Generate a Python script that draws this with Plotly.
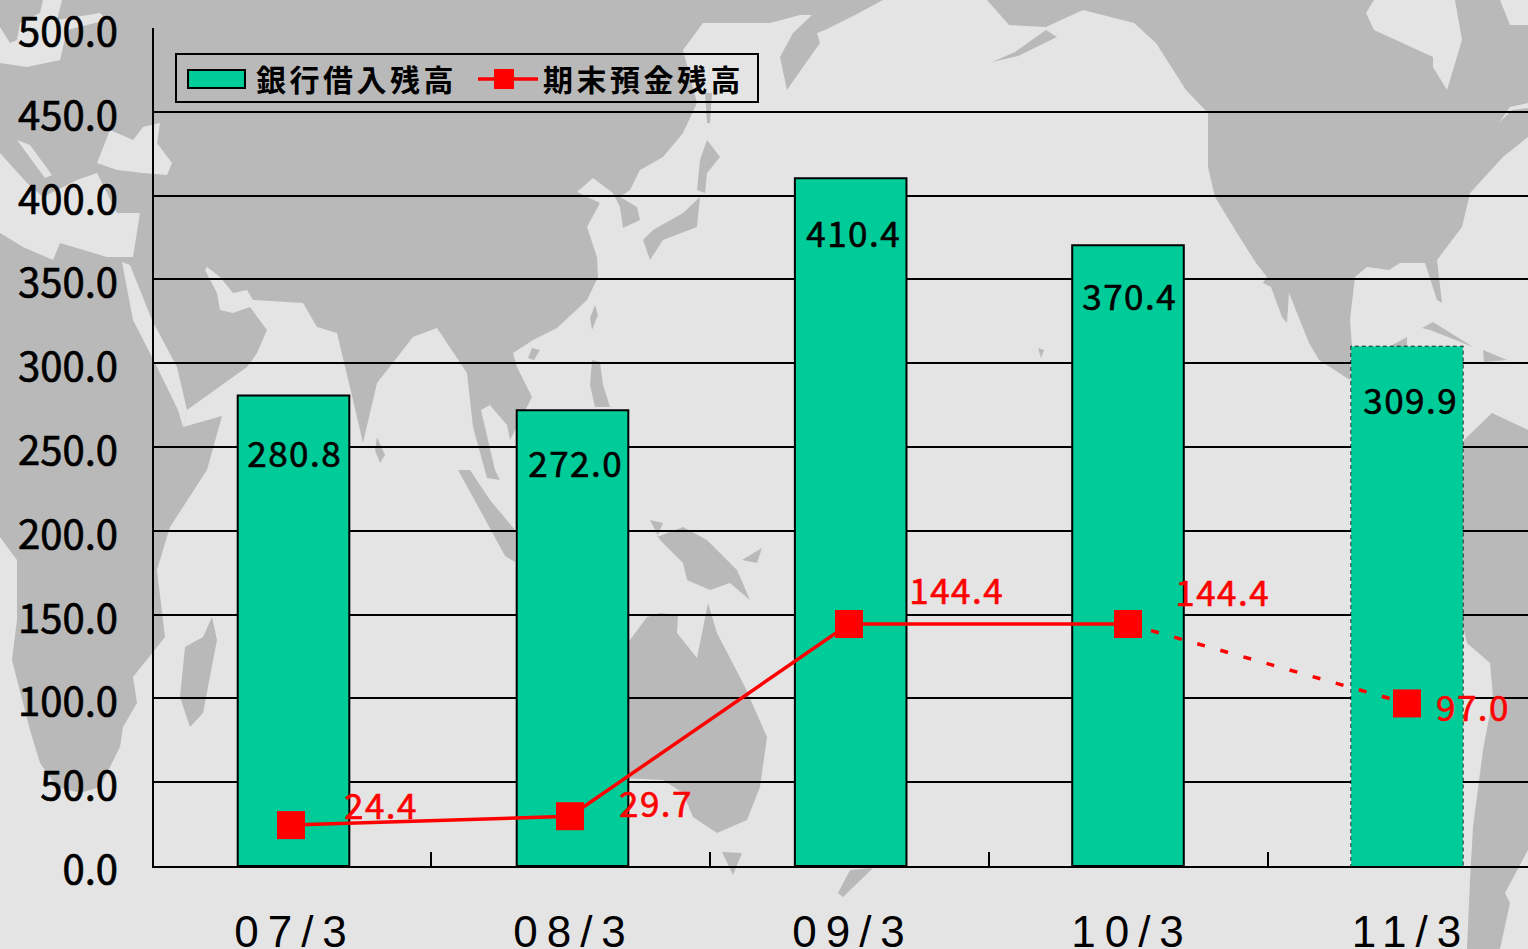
import plotly.graph_objects as go

# 描画サイズ
W, H = 1528, 949
M_L, M_T, M_B = 154, 28, 83

categories = ["07/3", "08/3", "09/3", "10/3", "11/3"]
loans = [280.8, 272.0, 410.4, 370.4, 309.9]
deposits = [24.4, 29.7, 144.4, 144.4, 97.0]
y_ticks = [0, 50, 100, 150, 200, 250, 300, 350, 400, 450, 500]

LAND = "#b9b9b9"
SEA = "#e4e4e4"
BAR = "#00cc99"
RED = "#ff0000"

# 背景の世界地図（ピクセル座標の略図）
land_polys = [
    # ユーラシア + アフリカ
    [(0, 0), (883, 0), (855, 15), (825, 30), (817, 33), (820, 43), (803, 67), (787, 90), (780, 57), (793, 33),
     (812, 15), (800, 15), (770, 23), (703, 23), (683, 50), (697, 103), (683, 133),
     (663, 157), (640, 170), (630, 190), (620, 197), (637, 207), (640, 220), (623, 228), (620, 207), (613, 193),
     (593, 178), (577, 192), (600, 203), (587, 227), (597, 257), (598, 277), (587, 300), (557, 328), (533, 340),
     (513, 353), (517, 367), (532, 397), (510, 440), (507, 425), (490, 405), (481, 410), (495, 470), (500, 480),
     (487, 478), (473, 427), (467, 373), (437, 328), (413, 337), (377, 383), (363, 443), (353, 400), (337, 333),
     (317, 327), (303, 303), (253, 300), (247, 290), (233, 293), (220, 277), (207, 267), (205, 270), (217, 293),
     (220, 310), (233, 313), (250, 307), (267, 330), (257, 353), (247, 367), (187, 410), (183, 427), (222, 416),
     (207, 470), (170, 527), (157, 570), (165, 637), (133, 677), (137, 703), (123, 727), (120, 747), (100, 787),
     (80, 793), (57, 787), (40, 763), (30, 730), (12, 660), (17, 620), (17, 560), (0, 537)],
    # 日本・樺太
    [(643, 240), (650, 260), (663, 240), (697, 227), (700, 197), (683, 213), (653, 230)],
    [(697, 190), (700, 160), (707, 140), (720, 157), (707, 173), (705, 193)],
    [(705, 93), (712, 93), (710, 123), (707, 123)],
    # 台湾・海南・フィリピン・スリランカ
    [(595, 305), (598, 315), (592, 330), (590, 318)],
    [(532, 348), (540, 350), (534, 360), (528, 358)],
    [(592, 360), (600, 362), (603, 385), (610, 407), (595, 407), (590, 385)],
    [(377, 437), (385, 455), (380, 463), (375, 450)],
    # マダガスカル
    [(212, 617), (217, 640), (203, 713), (190, 727), (180, 697), (185, 647), (203, 637)],
    # スマトラ
    [(458, 470), (470, 470), (490, 500), (515, 530), (515, 562), (505, 556), (480, 510)],
    # ニューギニア
    [(650, 520), (663, 523), (657, 537), (683, 527), (707, 540), (737, 570), (750, 600), (730, 583), (710, 590),
     (687, 580), (683, 563), (660, 540)],
    [(742, 560), (762, 548), (757, 563)],
    # オーストラリア
    [(600, 680), (630, 640), (647, 617), (660, 613), (678, 615), (677, 633), (697, 658), (708, 603), (717, 633),
     (745, 687), (767, 737), (760, 787), (747, 820), (717, 833), (693, 817), (683, 793), (663, 780), (600, 777)],
    [(722, 852), (742, 853), (733, 875)],
    [(873, 868), (843, 897), (838, 893), (850, 870)],
    # 北米
    [(987, 0), (1009, 25), (1046, 27), (1061, 20), (1083, 10), (1134, 23), (1156, 43), (1186, 90), (1208, 113),
     (1208, 167), (1215, 197), (1237, 233), (1256, 263), (1267, 277), (1263, 283), (1271, 287), (1282, 317),
     (1287, 323), (1289, 293), (1309, 343), (1319, 360), (1350, 380), (1352, 347), (1350, 320), (1355, 277),
     (1367, 267), (1389, 270), (1400, 263), (1425, 263), (1437, 300), (1442, 303), (1437, 260), (1462, 227),
     (1470, 193), (1503, 157), (1528, 137), (1528, 0)],
    [(992, 62), (1015, 52), (1046, 30), (1057, 37), (1018, 56)],
    # キューバ・イスパニョーラ・ユカタン
    [(1422, 328), (1433, 322), (1473, 347), (1448, 337), (1430, 330)],
    [(1483, 350), (1507, 360), (1484, 362)],
    [(1389, 347), (1407, 337), (1407, 347)],
    [(1038, 348), (1044, 350), (1041, 358)],
    # 南米
    [(1464, 440), (1492, 413), (1528, 430), (1528, 850), (1505, 893), (1510, 903), (1500, 949), (1467, 949),
     (1470, 880), (1473, 827), (1483, 750), (1493, 697), (1490, 663), (1467, 643), (1460, 615)],
]
sea_polys = [
    [(0, 153), (27, 183), (43, 197), (77, 180), (97, 173), (117, 213), (140, 213), (133, 257), (107, 257),
     (60, 243), (53, 260), (23, 247), (0, 233)],
    [(97, 163), (110, 130), (133, 140), (143, 127), (160, 123), (157, 143), (172, 163), (167, 175), (143, 173),
     (117, 170)],
    [(0, 27), (10, 43), (17, 40), (20, 23), (40, 13), (43, 0), (62, 0), (57, 20), (100, 13), (107, 20), (67, 30),
     (60, 60), (27, 67), (0, 63)],
    [(17, 140), (30, 145), (52, 175), (45, 178)],
    [(122, 262), (133, 320), (157, 367), (178, 410), (183, 427), (187, 410), (177, 367), (152, 320), (130, 265)],
    [(1366, 13), (1374, 0), (1455, 0), (1462, 40), (1447, 90), (1433, 67), (1433, 57), (1374, 30)],
    [(1499, 123), (1510, 107), (1528, 103), (1528, 108), (1512, 110)],
    [(1500, 0), (1510, 25), (1528, 25), (1528, 0)],
]


def to_paper(pts):
    # ピクセル座標を paper 座標へ
    span_x, span_y = W - M_L, H - M_T - M_B
    coords = [f"{(x - M_L) / span_x:.5f},{1 - (y - M_T) / span_y:.5f}" for x, y in pts]
    return "M" + "L".join(coords) + "Z"


shapes = [dict(type="path", xref="paper", yref="paper", path=to_paper(p), fillcolor=LAND,
               line=dict(width=0), layer="below") for p in land_polys]
shapes += [dict(type="path", xref="paper", yref="paper", path=to_paper(p), fillcolor=SEA,
                line=dict(width=0), layer="below") for p in sea_polys]
# 11/3 は予想なので破線枠
shapes.append(dict(type="rect", xref="x", yref="y", x0=3.8, x1=4.2, y0=0, y1=loans[4], layer="between",
                   line=dict(color="black", width=1.5, dash="4px,3px")))

xs = list(range(len(categories)))

fig = go.Figure()
# 棒は元の図でも目盛の中心から少しずれている
bar_offsets = [-0.191, -0.191, -0.194, -0.2, -0.2]
fig.add_trace(go.Bar(
    x=xs, y=loans, name="銀行借入残高", width=0.4, offset=bar_offsets, marker_color=BAR,
    marker_line_color="black", marker_line_width=[2, 2, 2, 2, 0],
))
fig.add_trace(go.Scatter(
    x=xs[:4], y=deposits[:4], name="期末預金残高", mode="lines+markers",
    line=dict(color=RED, width=3.5), marker=dict(symbol="square", size=28, color=RED),
))
fig.add_trace(go.Scatter(
    x=xs[3:], y=deposits[3:], mode="lines+markers", showlegend=False,
    line=dict(color=RED, width=3.5, dash="8px,16px"), marker=dict(symbol="square", size=28, color=RED),
))

LABEL_FONT = "Noto Sans CJK JP"
annotations = []
black_offsets = [(3.5, -56), (5, -51), (4, -53), (1, -49), (3, -52)]
for i, (v, (dx, dy)) in enumerate(zip(loans, black_offsets)):
    annotations.append(dict(x=i, y=v, xref="x", yref="y", text=f"{v:.1f}", showarrow=False, xshift=dx, yshift=dy,
                            font=dict(family=LABEL_FONT, size=35, color="black")))
red_offsets = [(90, 22), (86, 15), (107, 35), (94, 33), (66, -2)]
for i, (v, (dx, dy)) in enumerate(zip(deposits, red_offsets)):
    annotations.append(dict(x=i, y=v, xref="x", yref="y", text=f"{v:.1f}", showarrow=False, xshift=dx, yshift=dy,
                            font=dict(family=LABEL_FONT, size=35, color=RED)))

fig.update_layout(
    width=W, height=H,
    margin=dict(l=M_L, r=0, t=M_T, b=M_B, autoexpand=False),
    paper_bgcolor=SEA, plot_bgcolor="rgba(0,0,0,0)",
    shapes=shapes, annotations=annotations,
    showlegend=True,
    legend=dict(
        orientation="h", x=(175 - M_L) / (W - M_L), y=1 - (53 - M_T) / (H - M_T - M_B),
        xanchor="left", yanchor="top", bgcolor="rgba(0,0,0,0)", bordercolor="black", borderwidth=2,
        font=dict(family="Noto Sans CJK JP", size=30, color="black", weight="bold"),
        itemwidth=60, entrywidth=212, itemclick=False,
    ),
)
fig.update_xaxes(
    range=[-137 / 279, (W - 291) / 279], tickmode="array", tickvals=xs, ticktext=categories,
    ticks="", showgrid=False, zeroline=False, showline=True, linecolor="black", linewidth=2,
    ticklabelstandoff=26, ticklabelshift=4, tickfont=dict(family="Liberation Sans", size=44, color="black"),
    minor=dict(tickmode="array", tickvals=[0.5, 1.5, 2.5, 3.5], ticks="inside", ticklen=14, tickwidth=1.5,
               tickcolor="black", showgrid=False),
)
fig.update_yaxes(
    range=[0, 500], tickmode="array", tickvals=y_ticks, ticktext=[f"{v:.1f}" for v in y_ticks],
    showgrid=True, gridcolor="black", gridwidth=1.5, zeroline=False, showline=True, linecolor="black", linewidth=2,
    ticks="", ticklabelstandoff=26, ticklabelshift=4,
    tickfont=dict(family=LABEL_FONT, size=40, color="black"),
)

# 余白・文字間隔・レジェンド見本の大きさはスクリプトで調整
post = """
document.body.style.margin = '0';
var st = document.createElement('style');
st.textContent = '.xtick text{letter-spacing:9px} .ytick text{stroke:black;stroke-width:.7px}' +
  ' .annotation-text{letter-spacing:1.5px} .legendtext{letter-spacing:3.5px}';
document.head.appendChild(st);
document.querySelectorAll('.annotation-text').forEach(function(t){
  t.style.stroke = t.style.fill;
  t.style.strokeWidth = '.6px';
});
var items = document.querySelectorAll('.legend .traces');
items[0].querySelectorAll('.legendpoints path').forEach(function(p){
  p.setAttribute('d', 'M24,9H-33V-9H24Z');
  p.style.strokeWidth = '2px';
  p.style.stroke = 'black';
});
items[1].querySelectorAll('.legendpoints path').forEach(function(p){
  p.setAttribute('d', 'M10,10H-10V-10H10Z');
});
items[1].querySelector('.legendsymbols').setAttribute('transform', 'translate(-4,0)');
var bg = document.querySelector('.legend .bg');
bg.setAttribute('width', 582);
bg.setAttribute('height', 48);
document.querySelector('.legend .scrollbox').setAttribute('transform', 'translate(9,-2)');
"""
fig.write_html("out.html", post_script=post, config=dict(displayModeBar=False))
